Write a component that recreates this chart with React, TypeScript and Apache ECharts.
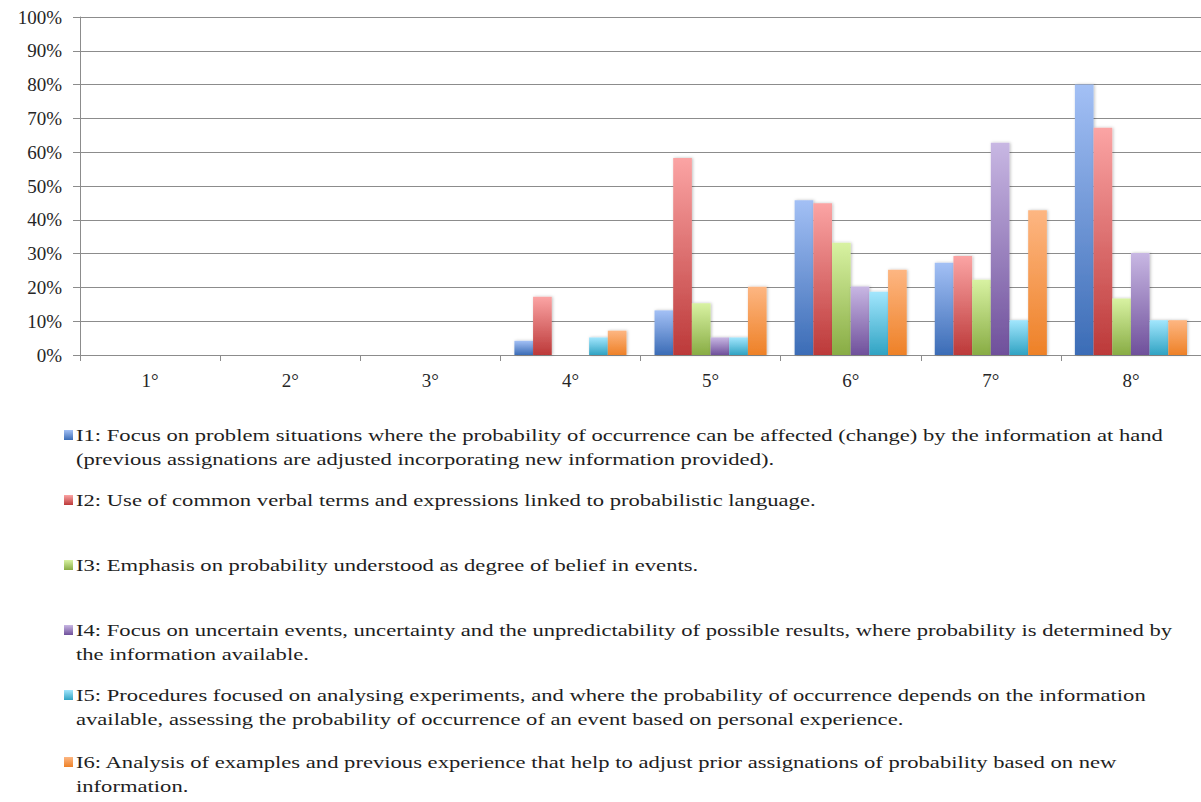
import React, { useEffect, useRef } from "react";
import * as echarts from "echarts";

const categories = ["1°", "2°", "3°", "4°", "5°", "6°", "7°", "8°"];
const seriesNames = ["I1", "I2", "I3", "I4", "I5", "I6"];
const i1 = [0, 0, 0, 4.2, 13.2, 45.8, 27.3, 80];
const i2 = [0, 0, 0, 17.2, 58.3, 44.9, 29.3, 67.2];
const i3 = [0, 0, 0, 0, 15.3, 33.2, 22.3, 16.7];
const i4 = [0, 0, 0, 0, 5.2, 20.3, 62.8, 30.2];
const i5 = [0, 0, 0, 5.2, 5.2, 18.7, 10.3, 10.3];
const i6 = [0, 0, 0, 7.2, 20.2, 25.2, 42.8, 10.3];
const seriesValues = [i1, i2, i3, i4, i5, i6];
const yTicks = [0, 10, 20, 30, 40, 50, 60, 70, 80, 90, 100];
const legendTexts = [
  "I1: Focus on problem situations where the probability of occurrence can be affected (change) by the information at hand\n(previous assignations are adjusted incorporating new information provided).",
  "I2: Use of common verbal terms and expressions linked to probabilistic language.",
  "I3: Emphasis on probability understood as degree of belief in events.",
  "I4: Focus on uncertain events, uncertainty and the unpredictability of possible results, where probability is determined by\nthe information available.",
  "I5: Procedures focused on analysing experiments, and where the probability of occurrence depends on the information\navailable, assessing the probability of occurrence of an event based on personal experience.",
  "I6: Analysis of examples and previous experience that help to adjust prior assignations of probability based on new\ninformation.",
];

const gradStops = [
  ["#a3c0f5", "#3b6cb6"],
  ["#fba4a4", "#bc3939"],
  ["#d8f2a2", "#88ac44"],
  ["#c8b7e3", "#6f509b"],
  ["#a2e6fd", "#30a3c3"],
  ["#fdb682", "#ee8127"],
];
const legendY = [435, 500, 565, 630, 695, 762];

const grad = (i: number) =>
  new echarts.graphic.LinearGradient(0, 0, 0, 1, [
    { offset: 0, color: gradStops[i][0] },
    { offset: 1, color: gradStops[i][1] },
  ]);

const FONT = "Liberation Serif";

export default function App() {
  const ref = useRef<HTMLDivElement>(null);
  useEffect(() => {
    if (!ref.current) return;
    const chart = echarts.init(ref.current, undefined, { renderer: "svg" });
    const lineH = 24.5;
    const graphics: any[] = [];
    legendTexts.forEach((t, i) => {
      graphics.push({
        type: "rect",
        shape: { x: 64, y: legendY[i] - 5, width: 9, height: 10 },
        style: { fill: grad(i) },
      });
      graphics.push({
        type: "text",
        x: 76,
        y: legendY[i] - lineH / 2,
        scaleX: 1.33,
        style: {
          text: t,
          fontFamily: FONT,
          fontSize: 17,
          fill: "#1e1e1e",
          lineHeight: lineH,
          verticalAlign: "top",
          align: "left",
        },
      });
    });
    chart.setOption({
      animation: false,
      backgroundColor: "#ffffff",
      grid: { left: 80, top: 17, width: 1122, height: 338, containLabel: false },
      xAxis: {
        type: "category",
        data: categories,
        axisLine: { lineStyle: { color: "#8c8c8c", width: 1 } },
        axisTick: { show: true, length: 6, lineStyle: { color: "#8c8c8c" }, alignWithLabel: false },
        axisLabel: { fontFamily: FONT, fontSize: 19, color: "#262626", margin: 16 },
      },
      yAxis: {
        type: "value",
        min: 0,
        max: 100,
        interval: 10,
        axisLine: { show: true, lineStyle: { color: "#8c8c8c", width: 1 } },
        axisTick: { show: true, length: 7, lineStyle: { color: "#8c8c8c" } },
        splitLine: { lineStyle: { color: "#8c8c8c", width: 1 } },
        axisLabel: {
          fontFamily: FONT,
          fontSize: 19,
          color: "#262626",
          margin: 18,
          formatter: (v: number) => (yTicks.includes(v) ? `${v}%` : ""),
        },
      },
      legend: { show: false },
      series: seriesNames.map((name, i) => ({
        name,
        type: "bar",
        data: seriesValues[i],
        barGap: "0%",
        barCategoryGap: "20%",
        itemStyle: {
          color: grad(i),
          shadowColor: "rgba(0,0,0,0.25)",
          shadowBlur: 3,
          shadowOffsetX: 1,
        },
      })),
      graphic: graphics,
    });
    return () => chart.dispose();
  }, []);
  return (
    <div
      ref={ref}
      style={{ position: "fixed", left: 0, top: 0, width: 1201, height: 802 }}
    />
  );
}
